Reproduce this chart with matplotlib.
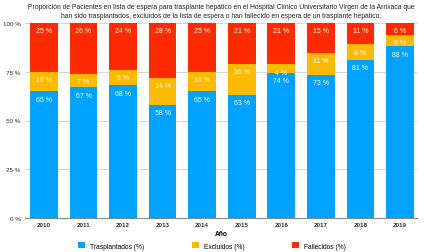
import matplotlib
matplotlib.use("Agg")
import matplotlib.pyplot as plt
import numpy as np

plt.rcParams['font.family'] = ['Liberation Sans', 'DejaVu Sans']

years = ['2010', '2011', '2012', '2013', '2014', '2015', '2016', '2017', '2018', '2019']
trasplantados = [65, 67, 68, 58, 65, 63, 74.4, 73.4, 81, 88]
excluidos = [10, 7, 8, 14, 10, 16, 4.4, 11.4, 8, 6]
fallecidos = [25, 26, 24, 28, 25, 21, 21.2, 15.2, 11, 6]

series = [('Trasplantados (%)', trasplantados, '#00A2FF'),
          ('Excluidos (%)', excluidos, '#FEBA00'),
          ('Fallecidos (%)', fallecidos, '#FF2A00')]

fig = plt.figure(figsize=(4.25, 2.53), dpi=100)
ax = fig.add_axes([25 / 425, 1 - 219 / 253, 392 / 425, 195 / 253])

x = np.arange(len(years))
bottom = np.zeros(len(years))
handles = []
for name, vals, col in series:
    vals = np.array(vals, dtype=float)
    b = ax.bar(x, vals, 0.7, bottom=bottom, color=col, label=name, zorder=2)
    handles.append(b)
    for xi, bt, v in zip(x, bottom, vals):
        ax.text(xi, bt + v - 2.2, '%.0f %%' % v, ha='center', va='top',
                color='white', fontsize=5, zorder=3)
    bottom += vals

ax.set_xlim(-0.48, 9.43)
ax.set_ylim(0, 100)
ax.set_yticks([0, 25, 50, 75, 100])
ax.set_yticklabels(['0 %', '25 %', '50 %', '75 %', '100 %'])
ax.set_xticks(x)
ax.set_xticklabels(years, fontweight='bold')
ax.tick_params(axis='both', length=0, labelsize=4.5, colors='#333333')
ax.tick_params(axis='x', pad=3)
ax.tick_params(axis='y', pad=3)
ax.grid(axis='y', color='#d0d0d0', linewidth=0.6, zorder=0)
for s in ['top', 'right', 'left']:
    ax.spines[s].set_visible(False)
ax.spines['bottom'].set_color('#888888')
ax.spines['bottom'].set_linewidth(0.8)

ax.set_xlabel('Año', fontsize=4.8, fontweight='bold', labelpad=2)

fig.text(0.52, 0.985,
         'Proporción de Pacientes en lista de espera para trasplante hepático en el Hospital Clínico Universitario Virgen de la Arrixaca que\n'
         'han sido trasplantados, excluidos de la lista de espera o han fallecido en espera de un trasplante hepático.',
         ha='center', va='top', fontsize=4.9, color='#222222', linespacing=1.35)

# one legend entry per position, as in the original
for h, xpos in zip(handles, [78, 192, 292]):
    fig.legend(handles=[h], loc='center left', bbox_to_anchor=(xpos / 425, 1 - 247 / 253),
               frameon=False, fontsize=4.8, handlelength=1.0, handleheight=1.0,
               handletextpad=0.8, borderpad=0, borderaxespad=0)

fig.savefig('out.png', dpi=100)
